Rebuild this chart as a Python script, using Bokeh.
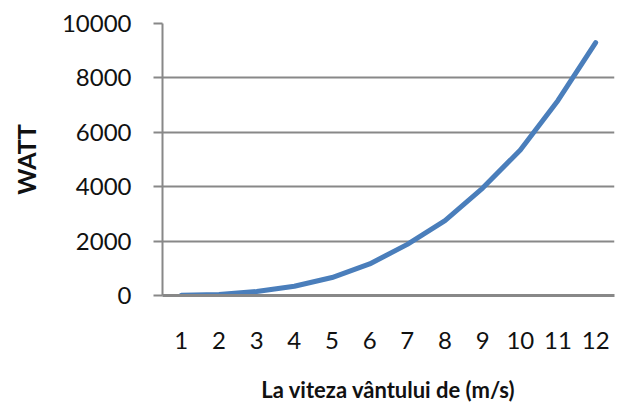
from bokeh.plotting import figure
from bokeh.models import Range1d, FactorRange, FixedTicker
from bokeh.embed import file_html
from bokeh.resources import INLINE

speeds = ["1", "2", "3", "4", "5", "6", "7", "8", "9", "10", "11", "12"]
watts = [5, 40, 145, 340, 660, 1160, 1880, 2750, 3950, 5350, 7170, 9300]
y_ticks = [0, 2000, 4000, 6000, 8000, 10000]
x_title = "La viteza vântului de (m/s)"
y_title = "WATT"

FONT = "Lato"
GRAY = "#888888"

p = figure(width=616, height=405, output_backend="svg", toolbar_location=None,
           x_range=FactorRange(*speeds, range_padding=0),
           y_range=Range1d(0, 10000),
           min_border_left=162, min_border_right=2, min_border_top=23, min_border_bottom=110)
p.outline_line_color = None
p.background_fill_color = "white"
p.border_fill_color = "white"

p.line(speeds, watts, line_color="#4A7EBB", line_width=5, line_cap="round", line_join="round")

p.xgrid.grid_line_color = None
p.ygrid.grid_line_color = GRAY
p.ygrid.grid_line_width = 2
p.ygrid.ticker = FixedTicker(ticks=y_ticks)

ya = p.yaxis[0]
ya.ticker = FixedTicker(ticks=y_ticks)
ya.axis_line_color = GRAY
ya.axis_line_width = 2
ya.major_tick_line_color = GRAY
ya.major_tick_line_width = 2
ya.major_tick_out = 9
ya.major_tick_in = 0
ya.minor_tick_line_color = None
ya.major_label_text_font = FONT
ya.major_label_text_font_size = "24px"
ya.major_label_text_color = "#111111"
ya.major_label_standoff = 22
ya.axis_label = y_title
ya.axis_label_text_font = FONT
ya.axis_label_text_font_style = "bold"
ya.axis_label_text_font_size = "25px"
ya.axis_label_text_color = "#111111"
ya.axis_label_standoff = 18

xa = p.xaxis[0]
xa.axis_line_color = GRAY
xa.axis_line_width = 3
xa.major_tick_line_color = None
xa.major_tick_out = 0
xa.major_tick_in = 0
xa.minor_tick_line_color = None
xa.major_label_text_font = FONT
xa.major_label_text_font_size = "24px"
xa.major_label_text_color = "#111111"
xa.major_label_standoff = 36
xa.axis_label = x_title
xa.axis_label_text_font = FONT
xa.axis_label_text_font_style = "bold"
xa.axis_label_text_font_size = "22px"
xa.axis_label_text_color = "#111111"
xa.axis_label_standoff = 24

open("out.html", "w").write(file_html(p, INLINE))
